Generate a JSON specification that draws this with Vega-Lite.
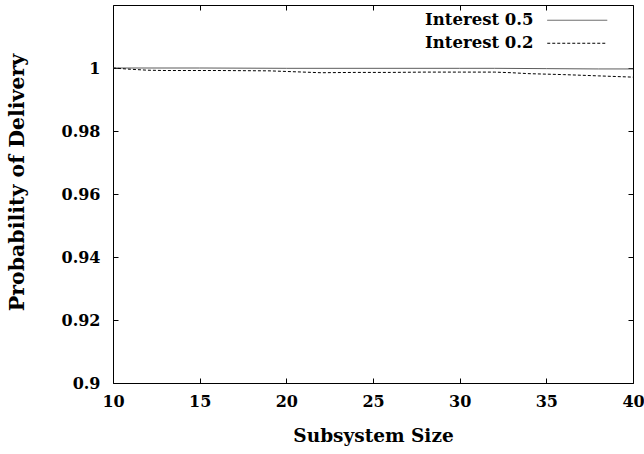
{
  "$schema": "https://vega.github.io/schema/vega-lite/v6.json",
  "width": 520,
  "height": 378,
  "autosize": {"type": "none"},
  "padding": {"left": 113, "top": 5, "right": 11, "bottom": 71},
  "background": "white",
  "config": {
    "view": {"stroke": "black", "strokeWidth": 1},
    "font": "DejaVu Serif",
    "axis": {
      "grid": false,
      "domain": false,
      "tickColor": "black",
      "tickSize": -5,
      "tickWidth": 1,
      "labelFlush": false,
      "labelFont": "DejaVu Serif",
      "labelFontWeight": "bold",
      "labelFontSize": 16,
      "labelColor": "black",
      "titleFont": "DejaVu Serif",
      "titleFontWeight": "bold",
      "titleColor": "black"
    },
    "legend": {
      "orient": "none",
      "legendX": 456,
      "legendY": 7,
      "symbolType": "M-4,0H4",
      "symbolSize": 225,
      "symbolStrokeWidth": 1,
      "rowPadding": 6,
      "padding": 0,
      "labelAlign": "right",
      "labelOffset": -52,
      "labelFont": "DejaVu Serif",
      "labelFontWeight": "bold",
      "labelFontSize": 16.5,
      "labelColor": "black",
      "labelLimit": 300
    }
  },
  "data": {
    "values": [
      {"x": 10, "p": 1.0, "series": "Interest 0.5"},
      {"x": 15, "p": 1.0, "series": "Interest 0.5"},
      {"x": 20, "p": 0.9999, "series": "Interest 0.5"},
      {"x": 25, "p": 0.9999, "series": "Interest 0.5"},
      {"x": 30, "p": 0.9999, "series": "Interest 0.5"},
      {"x": 32, "p": 0.9999, "series": "Interest 0.5"},
      {"x": 35, "p": 0.9998, "series": "Interest 0.5"},
      {"x": 38, "p": 0.9997, "series": "Interest 0.5"},
      {"x": 40, "p": 0.9997, "series": "Interest 0.5"},
      {"x": 10, "p": 1.0, "series": "Interest 0.2"},
      {"x": 11, "p": 0.9996, "series": "Interest 0.2"},
      {"x": 12, "p": 0.9993, "series": "Interest 0.2"},
      {"x": 13, "p": 0.9992, "series": "Interest 0.2"},
      {"x": 16, "p": 0.9992, "series": "Interest 0.2"},
      {"x": 19, "p": 0.9991, "series": "Interest 0.2"},
      {"x": 20, "p": 0.9989, "series": "Interest 0.2"},
      {"x": 22, "p": 0.9985, "series": "Interest 0.2"},
      {"x": 24, "p": 0.9986, "series": "Interest 0.2"},
      {"x": 26, "p": 0.9986, "series": "Interest 0.2"},
      {"x": 28, "p": 0.9987, "series": "Interest 0.2"},
      {"x": 30, "p": 0.9987, "series": "Interest 0.2"},
      {"x": 32, "p": 0.9987, "series": "Interest 0.2"},
      {"x": 33, "p": 0.9985, "series": "Interest 0.2"},
      {"x": 34, "p": 0.9982, "series": "Interest 0.2"},
      {"x": 36, "p": 0.9979, "series": "Interest 0.2"},
      {"x": 38, "p": 0.9975, "series": "Interest 0.2"},
      {"x": 40, "p": 0.9971, "series": "Interest 0.2"}
    ]
  },
  "layer": [
    {
      "mark": {"type": "line", "strokeWidth": 1, "clip": true},
      "encoding": {
        "x": {
          "field": "x",
          "type": "quantitative",
          "scale": {"domain": [10, 40], "nice": false, "zero": false},
          "axis": {
            "values": [10, 15, 20, 25, 30, 35, 40],
            "title": "Subsystem Size",
            "titleFontSize": 18.5,
            "labelPadding": 15,
            "titlePadding": 17
          }
        },
        "y": {
          "field": "p",
          "type": "quantitative",
          "scale": {"domain": [0.9, 1.02], "nice": false, "zero": false},
          "axis": {
            "values": [0.9, 0.92, 0.94, 0.96, 0.98, 1],
            "format": "~g",
            "title": "Probability of Delivery",
            "titleFontSize": 20.5,
            "titleY": 177,
            "labelPadding": 18,
            "titlePadding": 34
          }
        },
        "color": {
          "field": "series",
          "type": "nominal",
          "scale": {"domain": ["Interest 0.5", "Interest 0.2"], "range": ["#5a5a5a", "#000000"]},
          "legend": {"title": null}
        },
        "strokeDash": {
          "field": "series",
          "type": "nominal",
          "scale": {"domain": ["Interest 0.5", "Interest 0.2"], "range": [[1, 0], [3, 2]]},
          "legend": {"title": null}
        }
      }
    },
    {
      "mark": {"type": "line", "strokeOpacity": 0},
      "encoding": {
        "x": {
          "field": "x",
          "type": "quantitative",
          "axis": {"orient": "top", "values": [10, 15, 20, 25, 30, 35, 40], "labels": false, "title": null}
        },
        "y": {
          "field": "p",
          "type": "quantitative",
          "axis": {"orient": "right", "values": [0.9, 0.92, 0.94, 0.96, 0.98, 1], "labels": false, "title": null}
        },
        "detail": {"field": "series", "type": "nominal"}
      }
    }
  ],
  "resolve": {"axis": {"x": "independent", "y": "independent"}}
}
